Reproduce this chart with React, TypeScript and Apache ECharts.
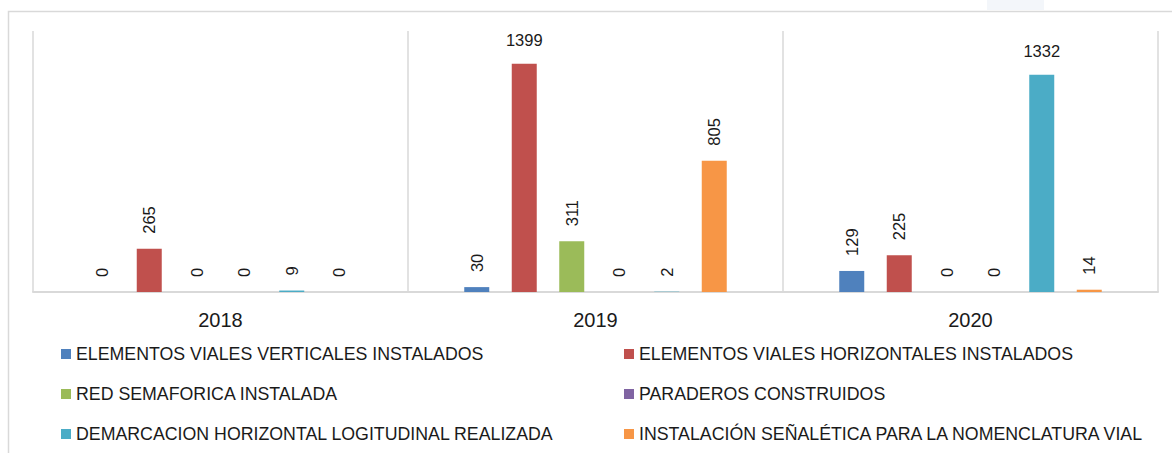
import React, { useEffect, useRef } from "react";
import * as echarts from "echarts";

const categories = ["2018", "2019", "2020"];
const seriesNames = [
  "ELEMENTOS VIALES VERTICALES INSTALADOS",
  "ELEMENTOS VIALES HORIZONTALES INSTALADOS",
  "RED SEMAFORICA INSTALADA",
  "PARADEROS CONSTRUIDOS",
  "DEMARCACION HORIZONTAL LOGITUDINAL REALIZADA",
  "INSTALACIÓN SEÑALÉTICA PARA LA NOMENCLATURA VIAL",
];
const verticales = [0, 30, 129];
const horizontales = [265, 1399, 225];
const semaforica = [0, 311, 0];
const paraderos = [0, 0, 0];
const demarcacion = [9, 2, 1332];
const senaletica = [0, 805, 14];
const seriesValues = [verticales, horizontales, semaforica, paraderos, demarcacion, senaletica];
const colors = ["#4f81bd", "#c0504d", "#9bbb59", "#8064a2", "#4bacc6", "#f79646"];

const FONT = "'Liberation Sans', Arial, sans-serif";

export default function App() {
  const ref = useRef<HTMLDivElement>(null);
  useEffect(() => {
    document.body.style.margin = "0";
    if (!ref.current) return;
    const chart = echarts.init(ref.current, null, { renderer: "svg" });
    const series = seriesValues.map((vals, i) => ({
      name: seriesNames[i],
      type: "bar",
      barWidth: 25,
      barGap: "90%",
      itemStyle: { color: colors[i] },
      label: {
        show: true,
        position: "top",
        distance: 15,
        rotate: 90,
        align: "left",
        verticalAlign: "middle",
        fontSize: 16.5,
        fontFamily: FONT,
        color: "#1a1a1a",
      },
      data: vals.map((v) =>
        v > 1000
          ? { value: v, label: { rotate: 0, align: "center", verticalAlign: "bottom" } }
          : v
      ),
    }));
    const legendText = { fontSize: 17.75, fontFamily: FONT, color: "#1a1a1a", lineHeight: 20 };
    const legendBase = {
      orient: "vertical",
      top: 344,
      padding: 0,
      itemWidth: 10,
      itemHeight: 10,
      itemGap: 20,
      icon: "rect",
      textStyle: legendText,
    };
    chart.setOption({
      animation: false,
      grid: { left: 33, right: 14, top: 31, bottom: 161 },
      xAxis: {
        type: "category",
        data: categories,
        axisTick: { show: false },
        axisLine: { lineStyle: { color: "#d9d9d9", width: 2 } },
        splitLine: { show: true, lineStyle: { color: "#d9d9d9", width: 1.5 } },
        axisLabel: { fontSize: 20, fontFamily: FONT, color: "#1a1a1a", margin: 18 },
      },
      yAxis: { type: "value", min: 0, max: 1600, show: false },
      legend: [
        { ...legendBase, data: [seriesNames[0], seriesNames[2], seriesNames[4]], left: 61 },
        { ...legendBase, data: [seriesNames[1], seriesNames[3], seriesNames[5]], left: 624 },
      ],
      graphic: [
        {
          type: "rect",
          shape: { x: 8.5, y: 11.5, width: 1300, height: 600 },
          style: { fill: "none", stroke: "#d9d9d9", lineWidth: 1.5 },
          silent: true,
        },
        {
          type: "rect",
          shape: { x: 987, y: 0, width: 57, height: 10 },
          style: { fill: "#f3f6fa" },
          silent: true,
        },
      ],
      series,
    });
    return () => chart.dispose();
  }, []);
  return <div ref={ref} style={{ width: 1172, height: 453 }} />;
}
